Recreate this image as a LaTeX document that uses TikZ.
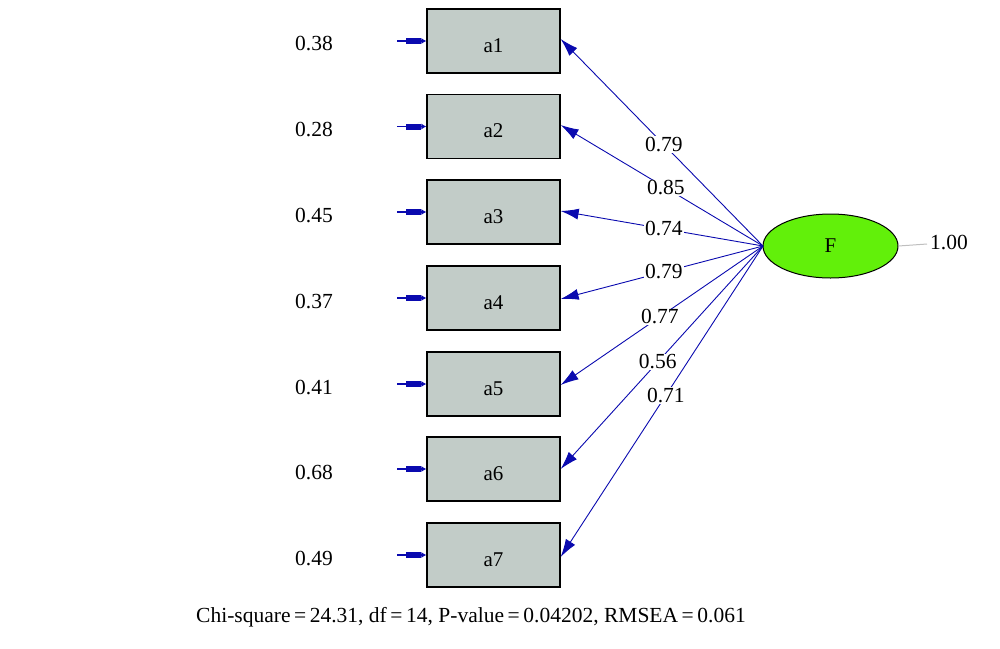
\documentclass[tikz,border=0pt]{standalone}
\usepackage{fontspec}
\setmainfont{Liberation Serif}
\usetikzlibrary{arrows.meta,shapes.geometric}
\definecolor{boxgray}{RGB}{194,204,200}
\definecolor{linkblue}{RGB}{10,10,175}
\definecolor{fgreen}{RGB}{98,240,10}
\begin{document}
\begin{tikzpicture}[x=1pt,y=-1pt,
  obsbox/.style={draw=black, line width=1.3pt, fill=boxgray, minimum width=133pt, minimum height=64pt, inner sep=0pt, text height=22pt, text depth=0pt, font=\fontsize{21}{24}\selectfont},
  errlab/.style={font=\fontsize{21.5}{24}\selectfont, inner sep=0pt},
  loadlab/.style={font=\fontsize{21.5}{24}\selectfont, fill=white, inner sep=1pt},
  link/.style={draw=linkblue, line width=0.9pt, -{Latex[length=18pt,width=11pt]}},
  errarrow/.style={draw=linkblue, line width=1.2pt, -{Rectangle[length=15pt,width=6pt]Latex[length=5pt,width=6pt]}}
]
\useasboundingbox (0,0) rectangle (1000,648);
\foreach \i/\y/\e in {1/41/0.38, 2/126.5/0.28, 3/212/0.45, 4/298/0.37, 5/384/0.41, 6/469/0.68, 7/555/0.49}{
  \node[obsbox] (a\i) at (493.5,\y) {a\i};
  \node[errlab] (e\i) at (314,\y+3) {\e};
  \coordinate (s\i) at (397,\y);
  \draw[errarrow] (s\i) -- (a\i.west);
}
\node[ellipse, draw=black, line width=1pt, fill=fgreen, minimum width=135pt, minimum height=64pt, inner sep=0pt, font=\fontsize{21}{24}\selectfont] (F) at (830.5,246) {F};
\coordinate (Fl) at (763,246);
\coordinate (vend) at (927,244);
\draw[gray!50, line width=1pt] (F.east) -- (vend);
\node[errlab, anchor=west] (v) at (930,242) {1.00};
\draw[link] (Fl) -- node[loadlab, pos=0.49] (l1) {0.79} ([yshift=2pt]a1.east);
\draw[link] (Fl) -- node[loadlab, pos=0.48] (l2) {0.85} ([yshift=1.5pt]a2.east);
\draw[link] (Fl) -- node[loadlab, pos=0.49] (l3) {0.74} ([yshift=1pt]a3.east);
\draw[link] (Fl) -- node[loadlab, pos=0.49] (l4) {0.79} ([yshift=-1pt]a4.east);
\draw[link] (Fl) -- node[loadlab, pos=0.51] (l5) {0.77} ([yshift=-1pt]a5.east);
\draw[link] (Fl) -- node[loadlab, pos=0.52] (l6) {0.56} ([yshift=0pt]a6.east);
\draw[link] (Fl) -- node[loadlab, pos=0.48] (l7) {0.71} ([yshift=-2pt]a7.east);
\node[font=\fontsize{21.5}{24}\selectfont, inner sep=0pt] (fit) at (471,617) {Chi-square\,=\,24.31, df\,=\,14, P-value\,=\,0.04202, RMSEA\,=\,0.061};
\end{tikzpicture}
\end{document}
